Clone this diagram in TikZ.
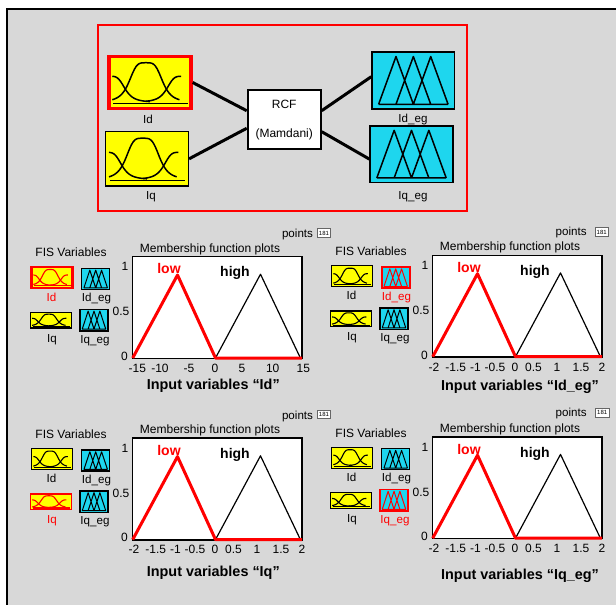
\documentclass[tikz,border=0pt]{standalone}
\usepackage{fontspec}
\setmainfont{Liberation Sans}
\usetikzlibrary{fit}
\definecolor{bg}{RGB}{216,216,216}
\definecolor{ylw}{RGB}{255,255,0}
\definecolor{cyn}{RGB}{30,214,238}
\definecolor{hred}{RGB}{255,0,0}
\tikzset{
  ybx/.style={fill=ylw, inner sep=0pt},
  cbx/.style={fill=cyn, inner sep=0pt},
  vlbl/.style={inner sep=0pt, font=\fontsize{11.6}{13}\selectfont, text height=8.3pt, text depth=0pt},
  fis/.style={inner sep=0pt, font=\fontsize{12}{14}\selectfont, text height=8.6pt, text depth=0pt},
  mfp/.style={inner sep=0pt, font=\fontsize{12}{14}\selectfont, text height=8.6pt, text depth=0pt},
  tick/.style={inner sep=0pt, font=\fontsize{12}{14}\selectfont, text height=8.6pt, text depth=0pt},
  lowlbl/.style={inner sep=0pt, text=hred, font=\fontsize{14}{16}\selectfont\bfseries, text height=10pt, text depth=0pt},
  highlbl/.style={inner sep=0pt, font=\fontsize{14}{16}\selectfont\bfseries, text height=10pt, text depth=0pt},
  ttl/.style={inner sep=0pt, font=\fontsize{14.4}{17}\selectfont\bfseries, text height=10.3pt, text depth=0pt},
  pts/.style={inner sep=0pt, font=\fontsize{11.6}{13}\selectfont, text height=8.3pt, text depth=0pt},
  ptbox/.style={draw=black!60, fill=white, line width=0.6pt, inner sep=0pt, minimum width=13.4pt, minimum height=8.7pt, font=\fontsize{6}{7}\selectfont},
  plotbx/.style={draw=black, fill=white, line width=1.5pt, inner sep=0pt},
  lowtri/.style={draw=hred, line width=3pt, line join=round},
  hightri/.style={draw=black, line width=1.2pt, line join=round},
  conn/.style={draw=black, line width=3pt},
  rcfbox/.style={draw=black, fill=white, line width=2pt, minimum width=73pt, minimum height=59pt, inner sep=0pt, align=center, font=\fontsize{12}{14}\selectfont}
}
% yellow input glyph box
\newcommand\ybox[8]{%
  \node[ybx, draw=#6, line width=#7, fit={(#2,#3)(#4,#5)}] (#1) {};
  \pgfmathsetmacro\gw{#4-#2}\pgfmathsetmacro\gh{#5-#3}%
  \begin{scope}[shift={(#2,#3)}, x=\gw pt, y=-\gh pt, #8]
    \draw[smooth, samples=24, domain=0.04:0.5, variable=\t] plot ({\t},{0.88-0.5/(1+(\t/0.2)^4)});
    \draw[smooth, samples=40, domain=0.04:0.86, variable=\t] plot ({\t},{0.88-0.76/(1+((\t-0.45)/0.21)^4)});
    \draw[smooth, samples=24, domain=0.45:0.88, variable=\t] plot ({\t},{0.88-0.5/(1+((0.9-\t)/0.2)^4)});
    \draw (0.05,0.9) -- (0.96,0.9);
  \end{scope}}
% cyan output glyph box
\newcommand\cbox[8]{%
  \node[cbx, draw=#6, line width=#7, fit={(#2,#3)(#4,#5)}] (#1) {};
  \pgfmathsetmacro\gw{#4-#2}\pgfmathsetmacro\gh{#5-#3}%
  \begin{scope}[shift={(#2,#3)}, x=\gw pt, y=-\gh pt, line join=round, #8]
    \draw (0.08,0.92)--(0.29,0.08)--(0.5,0.92) (0.29,0.92)--(0.5,0.08)--(0.71,0.92)
          (0.5,0.92)--(0.71,0.08)--(0.92,0.92) (0.08,0.92)--(0.92,0.92);
  \end{scope}}
% one FIS editor panel
\newcommand\fispanel[4]{%
 \begin{scope}[shift={#2}]
  \def\cA{black}\def\cB{black}\def\cC{black}\def\cD{black}%
  \def\wA{1.4pt}\def\wB{1.4pt}\def\wC{1.4pt}\def\wD{1.4pt}%
  \ifcase#3\or\def\cA{hred}\def\wA{2.6pt}\or\def\cB{hred}\def\wB{1.6pt}\or\def\cC{hred}\def\wC{1.6pt}\or\def\cD{hred}\def\wD{1.6pt}\fi
  \node[fis] (#1fis) at (71,252.5) {FIS Variables};
  \ybox{#1Id}{31.7}{267}{72.7}{288}{\cA}{\wA}{color=\cA, line width=1.1pt}
  \node[vlbl, text=\cA] (#1Idl) at (51.5,297) {Id};
  \cbox{#1Ideg}{81.7}{268.5}{109.7}{289.5}{\cB}{\wB}{color=\cB, line width=1pt}
  \node[vlbl, text=\cB] (#1Idegl) at (96.5,297.5) {Id\_eg};
  \ybox{#1Iq}{30.5}{312.3}{71.3}{328}{\cC}{\wC}{color=\cC, line width=1.1pt}
  \node[vlbl, text=\cC] (#1Iql) at (52,338) {Iq};
  \cbox{#1Iqeg}{80}{309.4}{108}{330.8}{\cD}{\wD}{color=\cD, line width=1pt}
  \node[vlbl, text=\cD] (#1Iqegl) at (95,339) {Iq\_eg};
  \node[mfp] (#1mfp) at (210,247.7) {Membership function plots};
  \node[plotbx, fit={(132.7,256.6)(302.2,358.5)}] (#1plot) {};
  \draw[hightri] (215.5,358)--(260.5,274.2)--(300.4,358);
  \draw[lowtri] (132.7,358)--(177.5,275)--(215.5,358)--(302,358);
  \node[lowlbl] (#1low) at (169,268.8) {low};
  \node[highlbl] (#1high) at (235,271.8) {high};
  \node[tick] (#1y1) at (125,266.5) {1};
  \node[tick] (#1y5) at (121,311.5) {0.5};
  \node[tick] (#1y0) at (124.5,356) {0};
  \foreach \xx/\lab [count=\i] in {#4} \node[tick] (#1x\i) at (\xx,368) {\lab};
 \end{scope}}
\begin{document}
\begin{tikzpicture}[x=1pt,y=-1pt]
\useasboundingbox (0,0) rectangle (616,605);
\fill[white] (0,0) rectangle (616,605);
\fill[bg] (7,9) rectangle (616,605);
\draw[line width=2pt] (7,605) -- (7,9) -- (616,9);

% ---- top FIS diagram ----
\node[draw=hred, line width=1.2pt, inner sep=0pt, fit={(98,25)(467,211)}] (frame) {};
\ybox{Id}{109}{56.5}{191}{108.5}{hred}{3.4pt}{black, line width=1.5pt}
\node[vlbl] (Idl) at (148,119) {Id};
\ybox{Iq}{105.7}{131.7}{188.3}{186}{black}{1.5pt}{black, line width=1.5pt}
\node[vlbl] (Iql) at (151,195) {Iq};
\node[rcfbox] (RCF) at (284.2,119.7) {RCF\\[15pt](Mamdani)};
\cbox{Ideg}{372}{52}{454.7}{108.8}{black}{1.5pt}{black, line width=1.5pt}
\node[vlbl] (Idegl) at (413,118) {Id\_eg};
\cbox{Iqeg}{370.2}{125.8}{452.8}{182.5}{black}{1.5pt}{black, line width=1.5pt}
\node[vlbl] (Iqegl) at (413,195) {Iq\_eg};
\draw[conn] (Id.east) -- ([yshift=9pt]RCF.west);
\draw[conn] (Iq.east) -- ([yshift=-8.6pt]RCF.west);
\draw[conn] ([yshift=9pt]RCF.east) -- ([yshift=3.7pt]Ideg.west);
\draw[conn] ([yshift=-12pt]RCF.east) -- ([yshift=-5pt]Iqeg.west);

% ---- four panels ----
\fispanel{pa}{(0,0)}{1}{137.3/-15,160/-10,189/-5,215/0,242/5,272.7/10,303.3/15}
\fispanel{pb}{(300,-1.3)}{2}{134/-2,155.7/-1.5,175.5/-1,195/-0.5,215/0,233.5/0.5,257/1,281/1.5,302/2}
\fispanel{pc}{(0,181.6)}{3}{134/-2,155.7/-1.5,175.5/-1,195/-0.5,215/0,233.5/0.5,257/1,281/1.5,302/2}
\fispanel{pd}{(300,180.2)}{4}{134/-2,155.7/-1.5,175.5/-1,195/-0.5,215/0,233.5/0.5,257/1,281/1.5,302/2}

\node[ttl] (ta) at (213.3,384) {Input variables “Id”};
\node[ttl] (tb) at (520,385.7) {Input variables “Id\_eg”};
\node[ttl] (tc) at (213.3,571.7) {Input variables “Iq”};
\node[ttl] (td) at (520,574) {Input variables “Iq\_eg”};

\node[pts] (pta) at (297.5,233) {points};
\node[ptbox] (pna) at (324,233.1) {181};
\node[pts] (ptb) at (571.2,231) {points};
\node[ptbox] (pnb) at (601.7,232) {181};
\node[pts] (ptc) at (297.5,415) {points};
\node[ptbox] (pnc) at (324,414.2) {181};
\node[pts] (ptd) at (571.2,412.3) {points};
\node[ptbox] (pnd) at (602.2,412.8) {181};
\end{tikzpicture}
\end{document}
